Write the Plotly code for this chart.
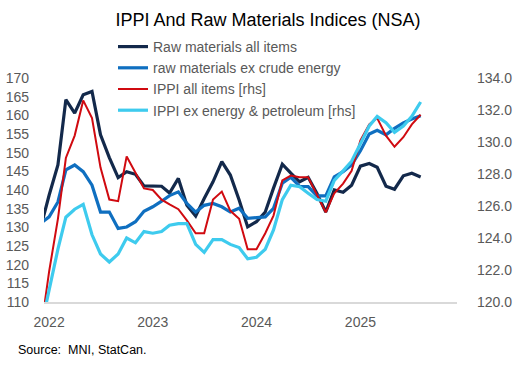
import plotly.graph_objects as go
import pandas as pd

# ---- data (monthly, Dec 2021 - Aug 2025) ----
months = pd.date_range("2021-12-01", "2025-08-01", freq="MS").strftime("%Y-%m-%d").tolist()

raw_all = [129.6, 138.6, 146.7, 164.2, 160.6, 165.5, 166.4, 154.8, 148.7, 143.3,
           144.9, 144.2, 141.1, 141.0, 141.0, 139.2, 143.1, 135.9, 133.0, 137.7,
           142.2, 147.6, 144.0, 137.3, 130.1, 131.5, 134.1, 140.5, 146.9, 144.5,
           142.2, 143.4, 139.1, 134.1, 140.0, 139.4, 141.3, 146.4, 147.1, 146.1,
           141.0, 140.2, 143.8, 144.5, 143.5]

raw_ex_crude = [131.0, 132.8, 136.8, 145.4, 146.7, 144.9, 141.3, 134.1, 134.1, 129.7,
                130.1, 131.5, 134.3, 135.5, 137.0, 138.5, 139.5, 136.4, 134.1, 135.9,
                136.4, 135.5, 134.1, 135.1, 132.4, 132.6, 132.8, 135.1, 141.8, 143.4,
                141.0, 140.9, 138.4, 138.4, 143.5, 144.9, 146.7, 150.5, 155.0, 156.0,
                154.8, 156.5, 158.0, 159.0, 159.9]

ippi_all = [118.0, 121.9, 125.2, 129.0, 130.4, 132.6, 131.5, 128.4, 126.4, 126.3,
            129.1, 128.1, 127.1, 127.0, 126.4, 126.1, 125.8, 125.1, 124.3, 124.3,
            126.4, 126.9, 125.7, 125.2, 123.3, 123.3, 124.3, 125.4, 127.6, 127.9,
            127.8, 127.8, 126.7, 125.6, 126.8, 127.4, 128.2, 130.1, 131.1, 131.5,
            130.4, 129.7, 130.3, 131.1, 131.7]

ippi_ex_energy = [118.2, 120.8, 123.3, 125.3, 125.8, 126.1, 124.2, 123.0, 122.5, 123.0,
                  124.0, 123.7, 124.4, 124.3, 124.4, 124.8, 124.9, 124.9, 123.6, 123.1,
                  123.9, 123.9, 123.6, 123.4, 122.7, 122.8, 123.3, 124.5, 126.4, 127.3,
                  127.2, 126.8, 126.4, 126.3, 127.6, 128.2, 128.8, 129.9, 131.0, 131.6,
                  131.2, 130.6, 131.0, 131.6, 132.5]

series_names = ["Raw materials all items", "raw materials ex crude energy",
                "IPPI all items [rhs]", "IPPI ex energy & petroleum [rhs]"]

year_ticks = ["2022-01-01", "2023-01-01", "2024-01-01", "2025-01-01"]
year_labels = ["2022", "2023", "2024", "2025"]
left_ticks = list(range(110, 171, 5))
right_ticks = [120, 122, 124, 126, 128, 130, 132, 134]

# ---- styling ----
W, H = 521, 365
L, R, T, B = 44, 64, 78, 63
FONT = "Liberation Sans, Arial, sans-serif"
GREY = "#595959"

fig = go.Figure()
specs = [
    (raw_all, "#13294b", 3.2, "y"),
    (raw_ex_crude, "#0f6fc0", 3.2, "y"),
    (ippi_all, "#d00a10", 2.0, "y2"),
    (ippi_ex_energy, "#3ecbee", 3.2, "y2"),
]
for i, (vals, col, wid, ax) in enumerate(specs):
    fig.add_trace(go.Scatter(
        x=months, y=vals, name=series_names[i], mode="lines",
        line=dict(color=col, width=wid), yaxis=ax,
        legendgroup=f"g{i}",
    ))

fig.update_layout(
    width=W, height=H,
    margin=dict(l=L, r=R, t=T, b=B, autoexpand=False),
    paper_bgcolor="white", plot_bgcolor="white",
    font=dict(family=FONT, color=GREY, size=14),
    title=dict(text="IPPI And Raw Materials Indices (NSA)",
               font=dict(family=FONT, size=18, color="#000000"),
               xref="container", yref="container",
               x=268 / W, y=1 - 20 / H, xanchor="center", yanchor="middle"),
    showlegend=True,
    legend=dict(xref="container", yref="container",
                x=113 / W, y=1 - 31 / H, xanchor="left", yanchor="top",
                bgcolor="rgba(0,0,0,0)", font=dict(size=14, color=GREY),
                tracegroupgap=4, traceorder="normal",
                itemwidth=30),
    xaxis=dict(type="date", range=["2021-12-14", "2025-12-07"],
               tickmode="array", tickvals=year_ticks, ticktext=year_labels,
               showgrid=False, zeroline=False, showline=True,
               linecolor="#d9d9d9", linewidth=2, ticks="",
               ticklabelstandoff=6, tickfont=dict(size=14, color=GREY)),
    yaxis=dict(range=[110, 170], tickmode="array", tickvals=left_ticks,
               showgrid=False, zeroline=False, showline=False, ticks="",
               ticklabelstandoff=14, tickfont=dict(size=14, color=GREY)),
    yaxis2=dict(range=[120, 134], overlaying="y", side="right",
                tickmode="array", tickvals=right_ticks,
                tickformat=".1f",
                showgrid=False, zeroline=False, showline=False, ticks="",
                ticklabelstandoff=19, tickfont=dict(size=14, color=GREY)),
)

pw = W - L - R
ph = H - T - B
fig.add_annotation(text="Source:  MNI, StatCan.", showarrow=False,
                   xref="paper", yref="paper",
                   x=(16 - L) / pw, y=(H - B - 350) / ph,
                   xanchor="left", yanchor="middle",
                   font=dict(family=FONT, size=12.5, color="#000000"))

fig.write_html("out.html",
               config={"displayModeBar": False},
               post_script="document.body.style.margin='0';document.body.style.overflow='hidden';")
